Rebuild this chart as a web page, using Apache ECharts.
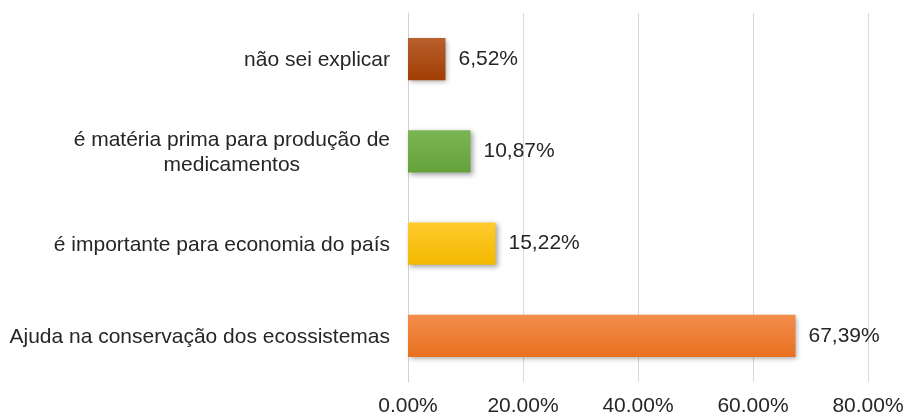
<!DOCTYPE html>
<html>
<head>
<meta charset="utf-8">
<script src="https://cdn.jsdelivr.net/npm/echarts@6/dist/echarts.min.js"></script>
<style>
  html, body { margin: 0; padding: 0; background: #fff; }
  #main { width: 906px; height: 414px; }
</style>
</head>
<body>
<div id="main"></div>
<script>
// categorias (de baixo para cima, como o eixo de categorias do echarts)
var categorias = [
    'Ajuda na conservação dos ecossistemas',
    'é importante para economia do país',
    'é matéria prima para produção de\nmedicamentos',
    'não sei explicar'
];
var valores = [67.39, 15.22, 10.87, 6.52];
var ticksX = [0, 20, 40, 60, 80];

// cores de cada barra: [topo, base]
var cores = [
    ['#f28d4c', '#e8711f'],
    ['#ffcb2e', '#f2b800'],
    ['#7cb554', '#64a13a'],
    ['#b8602f', '#a03d02']
];

var fonte = 'Liberation Sans, Arial, sans-serif';
var corTexto = '#262626';

var myChart = echarts.init(document.getElementById('main'));

var dados = [];
for (var i = 0; i < valores.length; i++) {
    dados.push({
        value: valores[i],
        itemStyle: {
            color: new echarts.graphic.LinearGradient(0, 0, 0, 1, [
                { offset: 0, color: cores[i][0] },
                { offset: 1, color: cores[i][1] }
            ]),
            shadowColor: 'rgba(0,0,0,0.35)',
            shadowBlur: 5,
            shadowOffsetX: 2,
            shadowOffsetY: 2
        }
    });
}

var option = {
    animation: false,
    grid: { left: 408, right: 38, top: 13, bottom: 32, outerBoundsMode: 'none', containLabel: false },
    xAxis: {
        type: 'value',
        min: ticksX[0],
        max: ticksX[ticksX.length - 1],
        interval: 20,
        axisLine: { show: false },
        axisTick: { show: false },
        splitLine: { lineStyle: { color: '#d9d9d9', width: 1 } },
        axisLabel: {
            margin: 14,
            color: corTexto,
            fontFamily: fonte,
            fontSize: 21,
            formatter: function (v) { return v.toFixed(2) + '%'; }
        }
    },
    yAxis: {
        type: 'category',
        data: categorias,
        axisLine: { show: true, lineStyle: { color: '#d0d0d0', width: 1 } },
        axisTick: { show: false },
        axisLabel: {
            margin: 18,
            color: corTexto,
            fontFamily: fonte,
            fontSize: 21,
            lineHeight: 25,
            align: 'right',
            padding: [3, 0, 0, 0],
            formatter: function (v) {
                return v.split('\n').map(function (l) { return '{c|' + l + '}'; }).join('\n');
            },
            rich: {
                c: {
                    align: 'center',
                    color: corTexto,
                    fontFamily: fonte,
                    fontSize: 21,
                    lineHeight: 25
                }
            }
        }
    },
    series: [{
        type: 'bar',
        data: dados,
        barWidth: '46%',
        label: {
            show: true,
            position: 'right',
            distance: 13,
            color: corTexto,
            fontFamily: fonte,
            fontSize: 21,
            formatter: function (p) { return p.value.toFixed(2).replace('.', ',') + '%'; }
        }
    }]
};

myChart.setOption(option);
</script>
</body>
</html>
